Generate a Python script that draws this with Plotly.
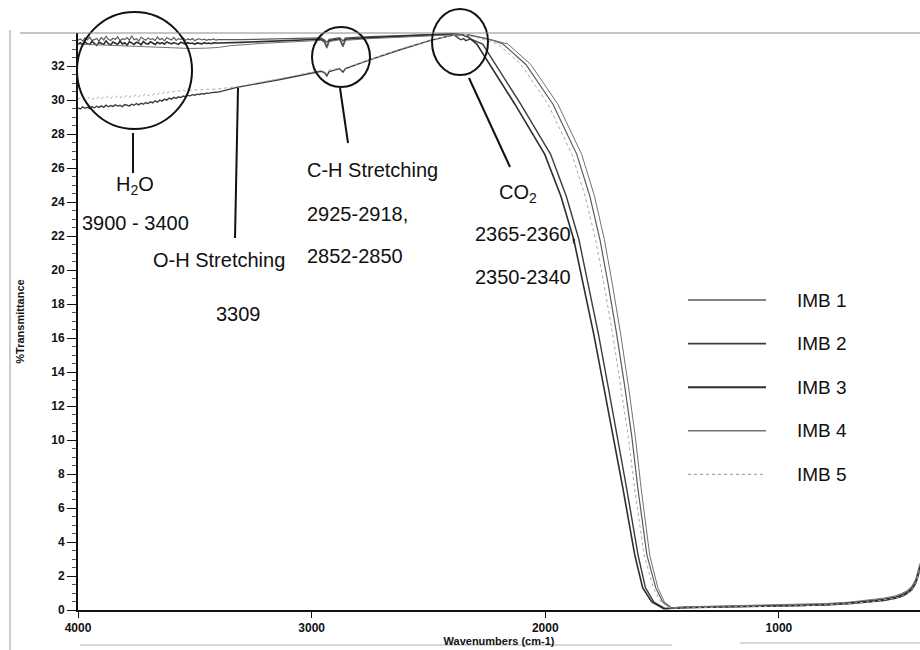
import plotly.graph_objects as go

# ---------------------------------------------------------------
# FTIR spectra of five IMB samples (%Transmittance vs wavenumber)
# ---------------------------------------------------------------
series_names = ["IMB 1", "IMB 2", "IMB 3", "IMB 4", "IMB 5"]

# noisy water band region, 4000-3400 cm-1 (10 cm-1 steps)
noise_wn = [4000, 3990, 3980, 3970, 3960, 3950, 3940, 3930, 3920, 3910,
            3900, 3890, 3880, 3870, 3860, 3850, 3840, 3830, 3820, 3810,
            3800, 3790, 3780, 3770, 3760, 3750, 3740, 3730, 3720, 3710,
            3700, 3690, 3680, 3670, 3660, 3650, 3640, 3630, 3620, 3610,
            3600, 3590, 3580, 3570, 3560, 3550, 3540, 3530, 3520, 3510,
            3500, 3490, 3480, 3470, 3460, 3450, 3440, 3430, 3420, 3410,
            3400]

imb1_noise = [33.52, 33.60, 33.48, 33.66, 33.55, 33.71, 33.50, 33.58, 33.63, 33.47,
              33.69, 33.54, 33.76, 33.58, 33.51, 33.64, 33.57, 33.73, 33.49, 33.61,
              33.56, 33.68, 33.53, 33.79, 33.55, 33.62, 33.48, 33.70, 33.59, 33.52,
              33.66, 33.57, 33.61, 33.50, 33.72, 33.56, 33.63, 33.49, 33.67, 33.58,
              33.54, 33.69, 33.51, 33.62, 33.57, 33.65, 33.52, 33.60, 33.55, 33.63,
              33.50, 33.58, 33.61, 33.54, 33.59, 33.52, 33.57, 33.55, 33.60, 33.53,
              33.56]
imb2_noise = [29.55, 29.48, 29.60, 29.52, 29.58, 29.50, 29.62, 29.55, 29.64, 29.57,
              29.66, 29.58, 29.70, 29.61, 29.68, 29.63, 29.72, 29.65, 29.70, 29.62,
              29.74, 29.68, 29.66, 29.76, 29.70, 29.80, 29.72, 29.82, 29.76, 29.86,
              29.80, 29.90, 29.84, 29.96, 29.88, 30.00, 29.94, 30.06, 30.00, 30.12,
              30.06, 30.16, 30.10, 30.20, 30.15, 30.24, 30.20, 30.28, 30.25, 30.32,
              30.29, 30.35, 30.33, 30.38, 30.36, 30.41, 30.40, 30.44, 30.43, 30.46,
              30.47]
imb3_noise = [33.30, 33.38, 33.24, 33.43, 33.31, 33.27, 33.46, 33.33, 33.22, 33.40,
              33.36, 33.28, 33.49, 33.32, 33.25, 33.42, 33.35, 33.29, 33.47, 33.30,
              33.38, 33.23, 33.44, 33.34, 33.28, 33.41, 33.37, 33.26, 33.45, 33.33,
              33.30, 33.43, 33.35, 33.27, 33.40, 33.32, 33.38, 33.29, 33.42, 33.34,
              33.31, 33.39, 33.33, 33.28, 33.41, 33.35, 33.30, 33.38, 33.33, 33.36,
              33.29, 33.37, 33.34, 33.31, 33.38, 33.33, 33.36, 33.32, 33.37, 33.35,
              33.36]
imb5_noise = [30.05, 30.14, 30.00, 30.12, 30.06, 30.18, 30.03, 30.15, 30.09, 30.20,
              30.07, 30.19, 30.12, 30.24, 30.10, 30.22, 30.15, 30.27, 30.13, 30.25,
              30.18, 30.30, 30.16, 30.28, 30.22, 30.34, 30.20, 30.32, 30.26, 30.38,
              30.24, 30.36, 30.30, 30.42, 30.33, 30.44, 30.37, 30.48, 30.40, 30.50,
              30.44, 30.52, 30.47, 30.55, 30.50, 30.57, 30.53, 30.59, 30.56, 30.61,
              30.58, 30.62, 30.60, 30.63, 30.62, 30.64, 30.63, 30.65, 30.64, 30.66,
              30.66]

# IMB 4 is smooth over the water band
imb4_head_wn = [4000, 3900, 3800, 3700, 3600, 3520, 3450, 3400]
imb4_head = [33.30, 33.25, 33.20, 33.12, 33.07, 33.04, 33.06, 33.10]

# 3400 cm-1 through the C-H and CO2 bands and down the cut-off edge
imb1_mid_wn = [3300, 3150, 3000, 2960, 2945, 2935, 2925, 2900, 2880, 2866, 2855, 2750,
               2600, 2480, 2400, 2365, 2355, 2342, 2330, 2260, 2220,
               2181, 2083, 1967, 1865, 1809, 1766, 1732, 1694, 1659, 1629, 1604, 1565,
               1527, 1497, 1459]
imb1_mid = [33.56, 33.60, 33.64, 33.66, 33.55, 33.40, 33.58, 33.66, 33.68, 33.48, 33.66, 33.74,
            33.80, 33.85, 33.90, 33.80, 33.88, 33.78, 33.86, 33.65, 33.50,
            33.30, 32.10, 29.76, 26.81, 24.34, 21.80, 19.27, 16.20, 13.08, 10.14, 7.19, 3.24,
            1.30, 0.47, 0.10]

imb2_mid_wn = [3320, 3140, 3000, 2960, 2945, 2935, 2925, 2880, 2866, 2855, 2755, 2625,
               2495, 2420, 2390, 2362, 2350, 2340, 2320,
               2268, 2212, 2105, 1977, 1910, 1856, 1818, 1772, 1730, 1690, 1652, 1603,
               1571, 1535, 1487]
imb2_mid = [30.75, 31.20, 31.60, 31.70, 31.62, 31.42, 31.68, 31.85, 31.65, 31.86, 32.35, 32.95,
            33.50, 33.76, 33.84, 33.55, 33.62, 33.50, 33.60,
            33.30, 32.10, 29.76, 26.81, 24.34, 21.80, 19.27, 16.20, 13.08, 10.14, 7.19, 3.24,
            1.30, 0.47, 0.08]

imb3_mid_wn = [3300, 3150, 3000, 2960, 2945, 2935, 2925, 2900, 2880, 2866, 2855, 2750,
               2600, 2480, 2420, 2390, 2360, 2330,
               2293, 2237, 2130, 2002, 1933, 1878, 1839, 1792, 1749, 1707, 1668, 1617,
               1583, 1544, 1493]
imb3_mid = [33.40, 33.48, 33.55, 33.58, 33.45, 33.10, 33.50, 33.58, 33.60, 33.18, 33.58, 33.68,
            33.76, 33.83, 33.88, 33.90, 33.86, 33.72,
            33.30, 32.10, 29.76, 26.81, 24.34, 21.80, 19.27, 16.20, 13.08, 10.14, 7.19, 3.24,
            1.30, 0.47, 0.08]

imb4_mid_wn = [3350, 3200, 3050, 2960, 2945, 2935, 2925, 2880, 2866, 2855, 2750, 2600,
               2450, 2380, 2320, 2250, 2200,
               2160, 2062, 1946, 1844, 1789, 1747, 1714, 1677, 1643, 1614, 1590, 1553,
               1518, 1490, 1456]
imb4_mid = [33.20, 33.35, 33.45, 33.52, 33.40, 33.05, 33.45, 33.55, 33.12, 33.52, 33.62, 33.70,
            33.80, 33.85, 33.80, 33.62, 33.45,
            33.30, 32.10, 29.76, 26.81, 24.34, 21.80, 19.27, 16.20, 13.08, 10.14, 7.19, 3.24,
            1.30, 0.47, 0.10]

imb5_mid_wn = [3320, 3140, 3000, 2960, 2935, 2925, 2880, 2866, 2855, 2755, 2625, 2495,
               2420, 2390, 2350, 2300, 2250,
               2202, 2104, 1988, 1886, 1829, 1785, 1750, 1711, 1675, 1644, 1618, 1577,
               1537, 1505, 1463]
imb5_mid = [30.80, 31.25, 31.65, 31.75, 31.58, 31.77, 31.88, 31.72, 31.90, 32.38, 32.98, 33.52,
            33.76, 33.84, 33.82, 33.72, 33.50,
            33.30, 32.10, 29.76, 26.81, 24.34, 21.80, 19.27, 16.20, 13.08, 10.14, 7.19, 3.24,
            1.30, 0.47, 0.10]

# fingerprint region baseline and the rise at the low-wavenumber end
tail_wn = [1440, 1400, 1300, 1200, 1100, 1000, 900, 800, 700, 600, 550, 500,
           470, 450, 430, 415, 405, 396]
imb1_tail = [0.14, 0.17, 0.20, 0.22, 0.23, 0.25, 0.29, 0.34, 0.42, 0.55, 0.64, 0.77,
             0.92, 1.08, 1.32, 1.68, 2.10, 2.60]
imb2_tail = [0.10, 0.13, 0.16, 0.18, 0.19, 0.21, 0.24, 0.29, 0.36, 0.48, 0.56, 0.68,
             0.82, 0.97, 1.20, 1.55, 1.95, 2.45]
imb3_tail = [0.12, 0.15, 0.18, 0.20, 0.21, 0.23, 0.27, 0.32, 0.40, 0.52, 0.60, 0.73,
             0.88, 1.03, 1.27, 1.62, 2.05, 2.55]
imb4_tail = [0.16, 0.19, 0.22, 0.24, 0.26, 0.28, 0.32, 0.38, 0.46, 0.60, 0.70, 0.84,
             1.00, 1.16, 1.42, 1.80, 2.25, 2.75]
imb5_tail = [0.11, 0.14, 0.17, 0.19, 0.20, 0.22, 0.26, 0.31, 0.38, 0.50, 0.58, 0.70,
             0.85, 1.00, 1.24, 1.60, 2.00, 2.50]

series_wn = [
    noise_wn + imb1_mid_wn + tail_wn,
    noise_wn + imb2_mid_wn + tail_wn,
    noise_wn + imb3_mid_wn + tail_wn,
    imb4_head_wn + imb4_mid_wn + tail_wn,
    noise_wn + imb5_mid_wn + tail_wn,
]
series_t = [
    imb1_noise + imb1_mid + imb1_tail,
    imb2_noise + imb2_mid + imb2_tail,
    imb3_noise + imb3_mid + imb3_tail,
    imb4_head + imb4_mid + imb4_tail,
    imb5_noise + imb5_mid + imb5_tail,
]

line_styles = [
    dict(color="#5a5a5a", width=1.2, dash="solid"),
    dict(color="#3c3c3c", width=1.4, dash="solid"),
    dict(color="#2e2e2e", width=1.6, dash="solid"),
    dict(color="#727272", width=1.0, dash="solid"),
    dict(color="#a8a8a8", width=1.0, dash="dot"),
]

FONT = "Arial, Liberation Sans, sans-serif"

fig = go.Figure()
for name, wn, t, st in zip(series_names, series_wn, series_t, line_styles):
    fig.add_trace(go.Scatter(x=wn, y=t, mode="lines", name=name,
                             line=dict(shape="linear", **st),
                             showlegend=False, hoverinfo="x+y+name"))

# geometry of the plotting area, in pixels
plot_left, plot_w, plot_bottom, plot_h = 78, 842, 610, 577


def px(xp):
    return (xp - plot_left) / plot_w


def py(yp):
    return (plot_bottom - yp) / plot_h


# hand-drawn style legend on the right
legend_top_px = 300
legend_step_px = 43.6
shapes = []
annotations = []
for i, (name, st) in enumerate(zip(series_names, line_styles)):
    yp = py(legend_top_px + i * legend_step_px)
    shapes.append(dict(type="line", xref="paper", yref="paper",
                       x0=px(688), x1=px(766), y0=yp, y1=yp,
                       line=dict(color=st["color"], width=st["width"] + 0.4, dash=st["dash"])))
    annotations.append(dict(text=name, xref="paper", yref="paper",
                            x=px(795), y=yp, xanchor="left", yanchor="middle",
                            showarrow=False, font=dict(family=FONT, size=19, color="#111")))

# band markers: circles around the bands and leader lines
black = dict(color="#111", width=2)
shapes += [
    dict(type="circle", xref="paper", yref="paper", x0=px(77), x1=px(192), y0=py(129), y1=py(12), line=black),
    dict(type="line", xref="paper", yref="paper", x0=px(133), x1=px(133), y0=py(133), y1=py(173), line=black),
    dict(type="line", xref="paper", yref="paper", x0=px(238), x1=px(235), y0=py(88), y1=py(238), line=black),
    dict(type="circle", xref="paper", yref="paper", x0=px(312), x1=px(370), y0=py(87), y1=py(27), line=black),
    dict(type="line", xref="paper", yref="paper", x0=px(340), x1=px(348), y0=py(88), y1=py(143), line=black),
    dict(type="circle", xref="paper", yref="paper", x0=px(432), x1=px(488), y0=py(75), y1=py(9), line=black),
    dict(type="line", xref="paper", yref="paper", x0=px(469), x1=px(510), y0=py(78), y1=py(167), line=black),
]

# page frame lines
shapes += [
    dict(type="line", xref="paper", yref="paper", x0=px(10), x1=px(10), y0=py(30), y1=py(650),
         line=dict(color="#9a9a9a", width=1)),
    dict(type="line", xref="paper", yref="paper", x0=px(20), x1=1, y0=1, y1=1,
         line=dict(color="#8a8a8a", width=1)),
    dict(type="line", xref="paper", yref="paper", x0=px(80), x1=px(672), y0=py(645), y1=py(645),
         line=dict(color="#b0b0b0", width=1)),
    dict(type="line", xref="paper", yref="paper", x0=px(740), x1=1, y0=py(643), y1=py(643),
         line=dict(color="#b0b0b0", width=1)),
]

# band labels
lab = dict(family=FONT, size=20, color="#111")
band_labels = [
    ("H<sub>2</sub>O", 3756, 25.0, "center"),
    ("3900 - 3400", 3756, 22.8, "center"),
    ("O-H Stretching", 3397, 20.6, "center"),
    ("3309", 3311, 17.4, "center"),
    ("C-H Stretching", 3029, 25.9, "left"),
    ("2925-2918,", 3029, 23.3, "left"),
    ("2852-2850", 3029, 20.8, "left"),
    ("CO<sub>2</sub>", 2207, 24.5, "left"),
    ("2365-2360,", 2310, 22.1, "left"),
    ("2350-2340", 2310, 19.6, "left"),
]
for text, x, y, anchor in band_labels:
    annotations.append(dict(text=text, x=x, y=y, xref="x", yref="y", xanchor=anchor,
                            yanchor="middle", showarrow=False, font=lab))

fig.update_layout(
    width=920, height=650,
    margin=dict(l=78, r=0, t=33, b=40),
    paper_bgcolor="white", plot_bgcolor="white",
    font=dict(family=FONT, color="#111"),
    shapes=shapes, annotations=annotations,
    showlegend=False,
)
fig.update_xaxes(
    range=[4000, 396], tickvals=[4000, 3000, 2000, 1000], ticks="outside", ticklen=6,
    tickwidth=1, tickcolor="#111", showline=True, linecolor="#111", linewidth=2,
    showgrid=False, zeroline=False,
    tickfont=dict(family=FONT, size=12, color="#111", weight="bold"),
    title=dict(text="Wavenumbers (cm-1)", standoff=1,
               font=dict(family=FONT, size=11, color="#111", weight="bold")),
)
fig.update_yaxes(
    range=[0, 33.95], dtick=2, tick0=0, ticks="outside", ticklen=9, tickwidth=1, tickcolor="#111",
    minor=dict(dtick=0.5, ticks="outside", ticklen=4, tickcolor="#555"),
    showline=True, linecolor="#111", linewidth=2, showgrid=False, zeroline=False,
    tickfont=dict(family=FONT, size=12, color="#111", weight="bold"),
    title=dict(text="%Transmittance", standoff=24,
               font=dict(family=FONT, size=11, color="#111", weight="bold")),
)

fig.write_html("out.html")
